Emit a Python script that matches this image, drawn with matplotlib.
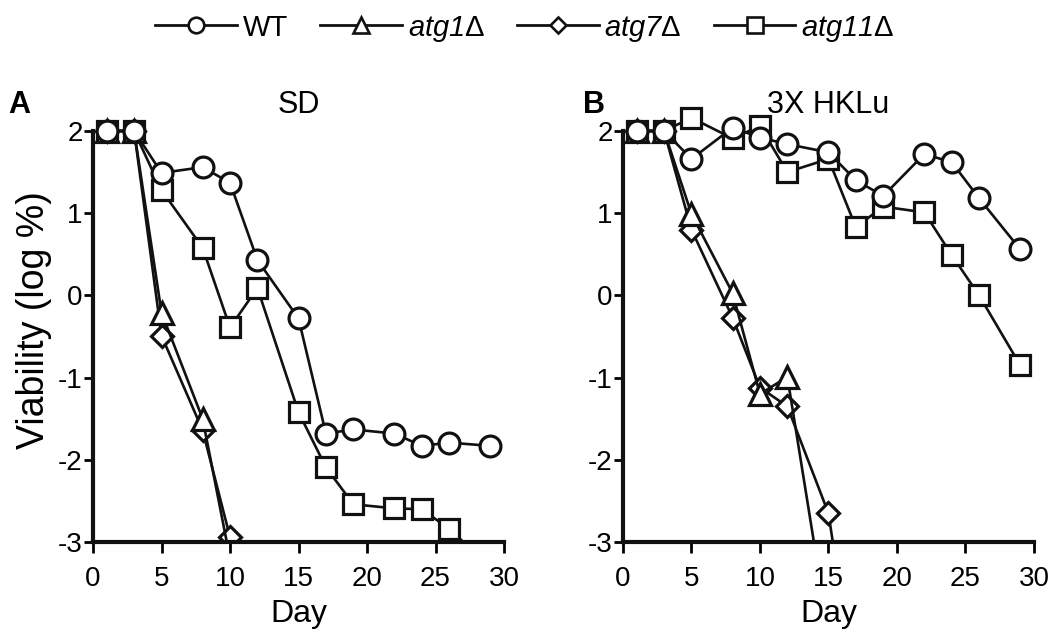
import matplotlib
matplotlib.use("Agg")
import matplotlib.pyplot as plt
from matplotlib.lines import Line2D

plt.rcParams['font.family'] = ['Liberation Sans', 'DejaVu Sans']
plt.rcParams['axes.unicode_minus'] = False
plt.rcParams['mathtext.fontset'] = 'custom'
plt.rcParams['mathtext.rm'] = 'Liberation Sans'
plt.rcParams['mathtext.it'] = 'Liberation Sans:italic'
plt.rcParams['mathtext.sf'] = 'Liberation Sans:italic'

# Panel A: SD medium
days_a_long = [1, 3, 5, 8, 10, 12, 15, 17, 19, 22, 24, 26, 29]
wt_a = [2, 2, 1.49, 1.56, 1.37, 0.43, -0.28, -1.68, -1.63, -1.68, -1.83, -1.79, -1.83]
atg11_a = [2, 2, 1.28, 0.58, -0.39, 0.09, -1.42, -2.09, -2.54, -2.59, -2.60, -2.84, -3.3]
days_a_short = [1, 3, 5, 8, 10]
atg1_a = [2, 2, -0.21, -1.50, -3.2]
atg7_a = [2, 2, -0.49, -1.64, -2.94]

# Panel B: 3X HKLu medium
days_b_long = [1, 3, 5, 8, 10, 12, 15, 17, 19, 22, 24, 26, 29]
wt_b = [2, 2, 1.66, 2.04, 1.92, 1.84, 1.74, 1.40, 1.21, 1.72, 1.62, 1.18, 0.56]
atg11_b = [2, 2, 2.16, 1.91, 2.06, 1.50, 1.66, 0.83, 1.08, 1.01, 0.49, 0.0, -0.85]
days_b_atg1 = [1, 3, 5, 8, 10, 12, 15]
atg1_b = [2, 2, 0.99, 0.03, -1.20, -0.99, -4.1]
days_b_atg7 = [1, 3, 5, 8, 10, 12, 15, 17]
atg7_b = [2, 2, 0.80, -0.27, -1.12, -1.35, -2.65, -4.85]

names = ['WT', 'atg1', 'atg7', 'atg11']
labels = ['WT', r'$\mathsf{atg1}\Delta$', r'$\mathsf{atg7}\Delta$', r'$\mathsf{atg11}\Delta$']
markers = {'WT': ('o', 15), 'atg1': ('^', 16), 'atg7': ('D', 11), 'atg11': ('s', 14.5)}

x_ticks = [0, 5, 10, 15, 20, 25, 30]
y_ticks = [-3, -2, -1, 0, 1, 2]


def draw_series(ax, x, y, name):
    m, ms = markers[name]
    ax.plot(x, y, color='#111111', lw=1.9, marker=m, ms=ms, mfc='white',
            mec='#111111', mew=2.3)


def style_axes(ax):
    ax.set_xlim(0, 30)
    ax.set_ylim(-3, 2.4)
    ax.spines['top'].set_visible(False)
    ax.spines['right'].set_visible(False)
    ax.spines['left'].set_bounds(-3, 2)
    for s in ['left', 'bottom']:
        ax.spines[s].set_linewidth(3.0)
        ax.spines[s].set_color('#111111')
    ax.set_xticks(x_ticks)
    ax.set_yticks(y_ticks)
    ax.tick_params(axis='x', length=8, width=2, pad=9, labelsize=20)
    ax.tick_params(axis='y', length=6.5, width=2, pad=1, labelsize=20)
    ax.set_xlabel('Day', fontsize=23, labelpad=5)


fig = plt.figure(figsize=(10.5, 6.37), dpi=100)
ax_a = fig.add_axes([0.0886, 0.149, 0.3914, 0.697])
ax_b = fig.add_axes([0.5933, 0.149, 0.3914, 0.697])

draw_series(ax_a, days_a_long, atg11_a, 'atg11')
draw_series(ax_a, days_a_short, atg7_a, 'atg7')
draw_series(ax_a, days_a_short, atg1_a, 'atg1')
draw_series(ax_a, days_a_long, wt_a, 'WT')

draw_series(ax_b, days_b_long, atg11_b, 'atg11')
draw_series(ax_b, days_b_atg7, atg7_b, 'atg7')
draw_series(ax_b, days_b_atg1, atg1_b, 'atg1')
draw_series(ax_b, days_b_long, wt_b, 'WT')

style_axes(ax_a)
style_axes(ax_b)
ax_a.set_ylabel('Viability (log %)', fontsize=27, labelpad=4)

fig.text(0.008, 0.835, 'A', fontsize=22, fontweight='bold', va='center')
fig.text(0.555, 0.835, 'B', fontsize=22, fontweight='bold', va='center')
fig.text(0.2843, 0.835, 'SD', fontsize=22, ha='center', va='center')
fig.text(0.789, 0.835, '3X HKLu', fontsize=22, ha='center', va='center')

handles = []
for name in names:
    m, ms = markers[name]
    handles.append(Line2D([], [], color='#111111', lw=2.0, marker=m, ms=ms * 0.75,
                          mfc='white', mec='#111111', mew=1.9))
leg = fig.legend(handles, labels, loc='center', bbox_to_anchor=(0.5, 0.955), ncol=4,
                 frameon=False, fontsize=21, handlelength=2.8, handletextpad=0.2,
                 columnspacing=1.1)

fig.savefig('out.png', dpi=100)
